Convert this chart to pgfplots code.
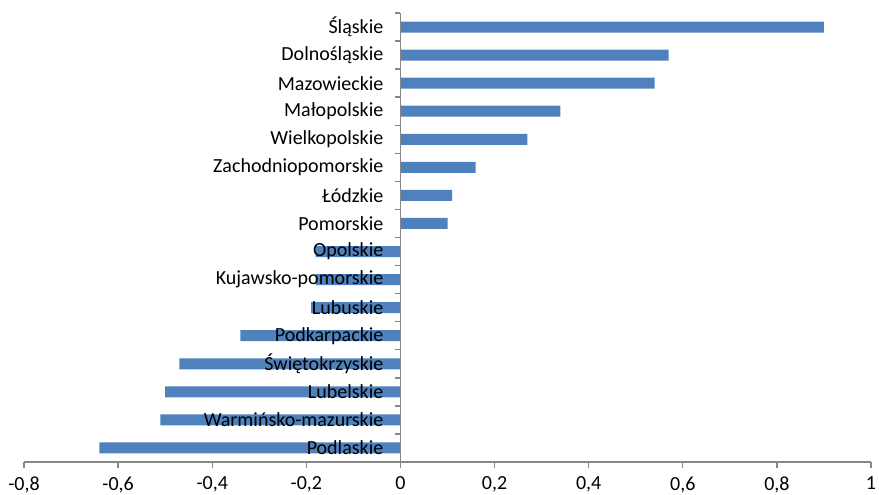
\documentclass[border=0pt]{standalone}
\usepackage{fontspec}
\setmainfont{Carlito}
\usepackage{pgfplots}
\pgfplotsset{compat=1.18}
\definecolor{barblue}{RGB}{79,129,189}
\definecolor{axgray}{RGB}{134,134,134}

\begin{document}
\begin{tikzpicture}
\begin{axis}[
  at={(12pt,16pt)}, anchor=south west,
  scale only axis,
  width=423.5pt, height=224.5pt,
  set layers, axis on top,
  xbar, bar width=5.5pt,
  xmin=-0.8, xmax=1,
  ymin=-0.5, ymax=15.5,
  axis x line*=bottom,
  axis y line*=middle,
  hide obscured x ticks=false,
  axis line style={axgray, line width=0.7pt},
  tick align=outside,
  major tick length=3pt,
  minor tick length=2.5pt,
  tick style={axgray, line width=0.7pt},
  every major y tick/.style={draw opacity=0},
  xtick={-0.8,-0.6,-0.4,-0.2,0,0.2,0.4,0.6,0.8,1},
  xticklabels={{-0,8},{-0,6},{-0,4},{-0,2},0,{0,2},{0,4},{0,6},{0,8},1},
  ytick={0,...,15},
  minor ytick={-0.5,0.5,...,15.5},
  yticklabels={Podlaskie,Warmińsko-mazurskie,Lubelskie,Świętokrzyskie,Podkarpackie,Lubuskie,Kujawsko-pomorskie,Opolskie,Pomorskie,Łódzkie,Zachodniopomorskie,Wielkopolskie,Małopolskie,Mazowieckie,Dolnośląskie,Śląskie},
  ticklabel style={font=\fontsize{10}{12}\selectfont, text=black},
  xticklabel style={yshift=-0.8pt},
  yticklabel style={anchor=east, xshift=-2pt},
]
\addplot[fill=barblue, draw=none] coordinates {
  (-0.64,0) (-0.51,1) (-0.50,2) (-0.47,3) (-0.34,4) (-0.19,5) (-0.18,6) (-0.18,7)
  (0.10,8) (0.11,9) (0.16,10) (0.27,11) (0.34,12) (0.54,13) (0.57,14) (0.90,15)
};
\end{axis}
\pgfresetboundingbox
\path (0,0) rectangle (439.5pt,247pt);
\end{tikzpicture}
\end{document}
